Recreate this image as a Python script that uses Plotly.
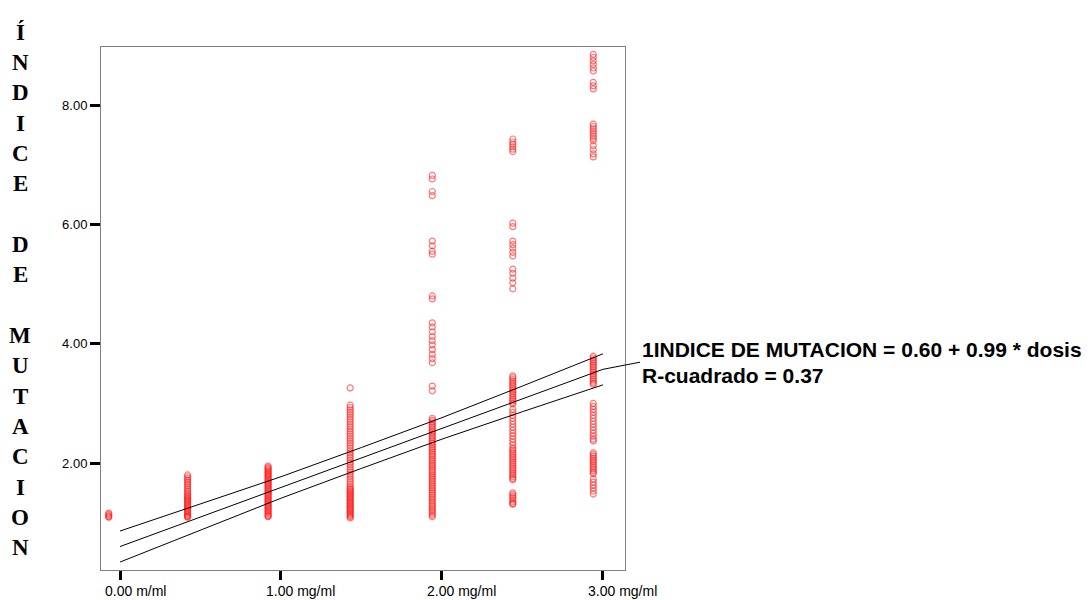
import plotly.graph_objects as go

# ---------------- data ----------------
dose_x = [-0.07, 0.42, 0.92, 1.43, 1.94, 2.44, 2.94]

col_0 = [1.16, 1.14, 1.12, 1.10, 1.09]
col_05 = [1.80, 1.77, 1.74, 1.71, 1.68, 1.65, 1.62, 1.59, 1.56, 1.53, 1.50, 1.47, 1.45, 1.43,
          1.41, 1.39, 1.37, 1.35, 1.33, 1.31, 1.29, 1.27, 1.25, 1.23, 1.21, 1.19, 1.17, 1.15,
          1.13, 1.11, 1.10, 1.09]
col_1 = [1.95, 1.93, 1.91, 1.89, 1.87, 1.85, 1.83, 1.81, 1.79, 1.77, 1.75, 1.73, 1.71, 1.69,
         1.67, 1.65, 1.63, 1.61, 1.59, 1.57, 1.55, 1.53, 1.51, 1.49, 1.47, 1.45, 1.43, 1.41,
         1.39, 1.37, 1.35, 1.33, 1.31, 1.29, 1.27, 1.25, 1.23, 1.21, 1.19, 1.17, 1.15, 1.13,
         1.11, 1.10]
col_15 = [3.26, 2.97, 2.93, 2.89, 2.85, 2.81, 2.77, 2.73, 2.69, 2.65, 2.61, 2.57, 2.53, 2.49,
          2.45, 2.41, 2.37, 2.33, 2.29, 2.25, 2.21, 2.17, 2.13, 2.09, 2.05, 2.01, 1.97, 1.93,
          1.89, 1.85, 1.81, 1.77, 1.73, 1.69, 1.65, 1.61, 1.58, 1.56, 1.54, 1.52, 1.50, 1.48,
          1.46, 1.44, 1.42, 1.40, 1.38, 1.36, 1.34, 1.32, 1.30, 1.28, 1.26, 1.24, 1.22, 1.20,
          1.18, 1.16, 1.14, 1.12, 1.10, 1.08]
col_2 = [6.82, 6.76, 6.55, 6.48, 5.72, 5.64, 5.55, 5.50, 4.80, 4.75, 4.35, 4.28, 4.20, 4.12,
         4.05, 3.98, 3.90, 3.82, 3.75, 3.68, 3.29, 3.21,
         2.75, 2.72, 2.69, 2.66, 2.63, 2.60, 2.57, 2.54, 2.51, 2.48, 2.45, 2.42, 2.39, 2.36,
         2.33, 2.30, 2.27, 2.24, 2.21, 2.18, 2.15, 2.12, 2.09, 2.06, 2.03, 2.00, 1.97, 1.94,
         1.91, 1.88, 1.85, 1.82, 1.79, 1.76, 1.73, 1.70, 1.67, 1.64, 1.61, 1.58, 1.55, 1.52,
         1.49, 1.46, 1.43, 1.40, 1.37, 1.34, 1.31, 1.28, 1.25, 1.22, 1.19, 1.16, 1.13, 1.10]
col_25 = [7.43, 7.38, 7.34, 7.30, 7.26, 7.22, 6.02, 5.96, 5.72, 5.66, 5.60, 5.53, 5.47,
          5.25, 5.18, 5.10, 5.02, 4.92,
          3.46, 3.43, 3.40, 3.37, 3.34, 3.31, 3.28, 3.25, 3.22, 3.19, 3.16, 3.13, 3.10, 3.07,
          3.04, 3.01, 2.99,
          2.90, 2.85, 2.80, 2.75, 2.70, 2.65, 2.60, 2.55, 2.50, 2.45, 2.40, 2.35, 2.30, 2.25,
          2.22, 2.19, 2.16, 2.13, 2.10, 2.07, 2.04, 2.01, 1.98, 1.95, 1.92, 1.89, 1.86, 1.83,
          1.80, 1.77, 1.74, 1.72,
          1.50, 1.47, 1.44, 1.41, 1.38, 1.35, 1.32, 1.31]
col_3 = [8.85, 8.80, 8.74, 8.68, 8.62, 8.57, 8.38, 8.32, 8.27,
         7.68, 7.64, 7.60, 7.56, 7.52, 7.48, 7.44, 7.40, 7.32, 7.25, 7.18, 7.13,
         3.79, 3.76, 3.73, 3.70, 3.67, 3.64, 3.61, 3.58, 3.55, 3.52, 3.49, 3.46, 3.43, 3.40,
         3.37, 3.34, 3.32,
         3.00, 2.95, 2.90, 2.85, 2.80, 2.75, 2.70, 2.65, 2.60, 2.55, 2.50, 2.45, 2.40, 2.37,
         2.17, 2.14, 2.11, 2.08, 2.05, 2.02, 1.99, 1.96, 1.93, 1.90, 1.87, 1.84, 1.82,
         1.73, 1.68, 1.63, 1.58, 1.53, 1.48]
columns = [col_0, col_05, col_1, col_15, col_2, col_25, col_3]

# fit line and its band, read at these doses
line_dose = [0, 0.5, 1, 1.5, 2, 2.5, 3]
fit_mid = [0.60, 1.095, 1.59, 2.085, 2.58, 3.075, 3.57]
fit_upper = [0.86, 1.31, 1.77, 2.26, 2.76, 3.29, 3.83]
fit_lower = [0.34, 0.88, 1.41, 1.91, 2.40, 2.86, 3.31]

x_tick_vals = [0, 1, 2, 3]
x_tick_text = ["0.00 m/ml", "1.00 mg/ml", "2.00 mg/ml", "3.00 mg/ml"]
y_tick_vals = [2, 4, 6, 8]
y_tick_text = ["2.00", "4.00", "6.00", "8.00"]
y_title = "ÍNDICE DE MUTACION"
eq_line1 = "1INDICE DE MUTACION = 0.60 + 0.99 * dosis"
eq_line2 = "R-cuadrado = 0.37"

# ---------------- figure ----------------
XR = [-0.118, 3.137]
YR = [0.207, 8.972]

fig = go.Figure()
xs, ys = [], []
for dx, vals in zip(dose_x, columns):
    xs += [dx] * len(vals)
    ys += vals
fig.add_trace(go.Scatter(
    x=xs, y=ys, mode="markers",
    marker=dict(symbol="circle-open", size=6, color="rgba(255,30,30,0.6)",
                line=dict(width=1.2, color="rgba(255,30,30,0.6)")),
    hoverinfo="skip", showlegend=False))

for series in (fit_upper, fit_mid, fit_lower):
    fig.add_trace(go.Scatter(x=line_dose, y=series, mode="lines",
                             line=dict(color="black", width=1),
                             hoverinfo="skip", showlegend=False))

def px(v):
    return (v - XR[0]) / (XR[1] - XR[0])

def py(v):
    return (v - YR[0]) / (YR[1] - YR[0])

# connector from line end to the equation text
fig.add_shape(type="line", xref="paper", yref="paper",
              x0=px(line_dose[-1]), y0=py(fit_mid[-1]),
              x1=px(3.23), y1=py(3.69),
              line=dict(color="black", width=1))

annos = []
annos.append(dict(text="<b>%s</b>" % eq_line1, xref="paper", yref="paper", x=1, y=1,
                  xanchor="left", yanchor="middle", xshift=15, yshift=-302, showarrow=False,
                  font=dict(family="Liberation Sans, Arial", size=21, color="black")))
annos.append(dict(text="<b>%s</b>" % eq_line2, xref="paper", yref="paper", x=1, y=1,
                  xanchor="left", yanchor="middle", xshift=15, yshift=-328, showarrow=False,
                  font=dict(family="Liberation Sans, Arial", size=21, color="black")))

# x tick labels (left-aligned just before the tick, as in the original)
for v, t in zip(x_tick_vals, x_tick_text):
    annos.append(dict(text=t, xref="x", yref="paper", x=v, y=0, xanchor="left",
                      yanchor="middle", xshift=-17, yshift=-21, showarrow=False,
                      font=dict(family="Liberation Sans, Arial", size=14, color="black")))

# vertical stacked y title
for i, ch in enumerate(y_title):
    if ch == " ":
        continue
    annos.append(dict(text="<b>%s</b>" % ch, xref="paper", yref="paper", x=0, y=1,
                      xanchor="center", yanchor="middle", xshift=-81,
                      yshift=47 - (32 + 30.35 * i), showarrow=False,
                      font=dict(family="Liberation Serif, Times New Roman", size=23,
                                color="black")))

fig.update_layout(
    width=1090, height=600,
    margin=dict(l=101, r=465, t=47, b=30),
    paper_bgcolor="white", plot_bgcolor="white",
    annotations=annos,
    xaxis=dict(range=XR, showgrid=False, zeroline=False, tickvals=x_tick_vals,
               showticklabels=False, ticks="outside", ticklen=9, tickwidth=3,
               tickcolor="black", showline=True, linecolor="#808080", linewidth=1,
               mirror=True),
    yaxis=dict(range=YR, showgrid=False, zeroline=False, tickvals=y_tick_vals,
               ticktext=y_tick_text, ticks="outside", ticklen=10, tickwidth=3,
               tickcolor="black", showline=True, linecolor="#808080", linewidth=1,
               mirror=True,
               tickfont=dict(family="Liberation Sans, Arial", size=13, color="black")),
)

fig.write_html("out.html")
